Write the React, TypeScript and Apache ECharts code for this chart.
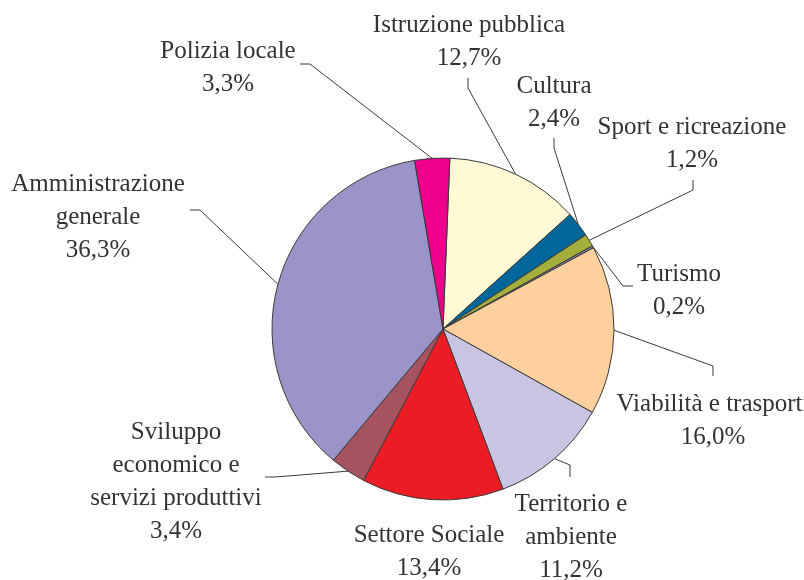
import React, { useEffect, useRef } from "react";
import * as echarts from "echarts";

// Data
const categories = [
  "Istruzione pubblica",
  "Cultura",
  "Sport e ricreazione",
  "Turismo",
  "Viabilità e trasporti",
  "Territorio e\nambiente",
  "Settore Sociale",
  "Sviluppo\neconomico e\nservizi produttivi",
  "Amministrazione\ngenerale",
  "Polizia locale",
];
const values = [12.7, 2.4, 1.2, 0.2, 16.0, 11.2, 13.4, 3.4, 36.3, 3.3];
const colors = [
  "#FFF9D6",
  "#03669A",
  "#A4AF3B",
  "#8A7FA6",
  "#FED09D",
  "#C8C4E2",
  "#EC1C24",
  "#A5535F",
  "#9B94C8",
  "#EC008C",
];

// Layout (style / positions only)
const CENTER: [number, number] = [443, 329];
const RADIUS = 171;
const START_ANGLE = 87.7;
const FONT_CSS = "25px 'Liberation Serif', serif";
const LINE_GAP = 33;

type Pt = [number, number];
const labelCenter: Pt[] = [
  [469, 40],
  [554, 101],
  [692, 142],
  [679, 289],
  [713, 419],
  [571, 535],
  [429, 550],
  [176, 480],
  [98, 215],
  [228, 66],
];
const lineElbow: (Pt | null)[] = [
  [468, 88],
  [554, 148],
  [693, 190],
  [623, 286],
  [713, 366],
  [570, 465],
  null,
  [275, 477],
  [200, 210],
  [310, 64],
];
const lineEnd: (Pt | null)[] = [
  [468, 78],
  [554, 138],
  [693, 180],
  [633, 286],
  [713, 376],
  [570, 477],
  null,
  [265, 477],
  [190, 210],
  [300, 64],
];

const fmt = (v: number) => v.toFixed(1).replace(".", ",") + "%";

export default function App() {
  const ref = useRef<HTMLDivElement>(null);
  useEffect(() => {
    if (!ref.current) return;
    const chart = echarts.init(ref.current, null, { renderer: "svg" });
    const total = values.reduce((a, b) => a + b, 0);

    const graphics: any[] = [];
    let cum = 0;
    values.forEach((v, i) => {
      const midDeg = START_ANGLE - ((cum + v / 2) / total) * 360;
      cum += v;
      const rad = (midDeg * Math.PI) / 180;
      const edge: Pt = [
        CENTER[0] + RADIUS * Math.cos(rad),
        CENTER[1] - RADIUS * Math.sin(rad),
      ];
      const el = lineElbow[i];
      const en = lineEnd[i];
      if (el && en) {
        graphics.push({
          type: "polyline",
          z: 10,
          silent: true,
          shape: { points: [edge, el, en] },
          style: { stroke: "#3a3a3a", lineWidth: 1, fill: null },
        });
      }
      const c = labelCenter[i];
      const lines = categories[i].split("\n").concat([fmt(v)]);
      lines.forEach((line, k) => {
        graphics.push({
          type: "text",
          z: 10,
          silent: true,
          x: c[0],
          y: c[1] + (k - (lines.length - 1) / 2) * LINE_GAP,
          style: {
            text: line,
            fill: "#333333",
            font: FONT_CSS,
            align: "center",
            verticalAlign: "middle",
          },
        });
      });
    });

    chart.setOption({
      animation: false,
      graphic: { elements: graphics },
      series: [
        {
          type: "pie",
          center: CENTER,
          radius: RADIUS,
          startAngle: START_ANGLE,
          clockwise: true,
          silent: true,
          itemStyle: { borderColor: "#3a3a3a", borderWidth: 1 },
          label: { show: false },
          labelLine: { show: false },
          data: categories.map((name, i) => ({
            name,
            value: values[i],
            itemStyle: { color: colors[i] },
          })),
        },
      ],
    });
    return () => chart.dispose();
  }, []);
  return (
    <div
      ref={ref}
      style={{ position: "fixed", left: 0, top: 0, width: 804, height: 580 }}
    />
  );
}
